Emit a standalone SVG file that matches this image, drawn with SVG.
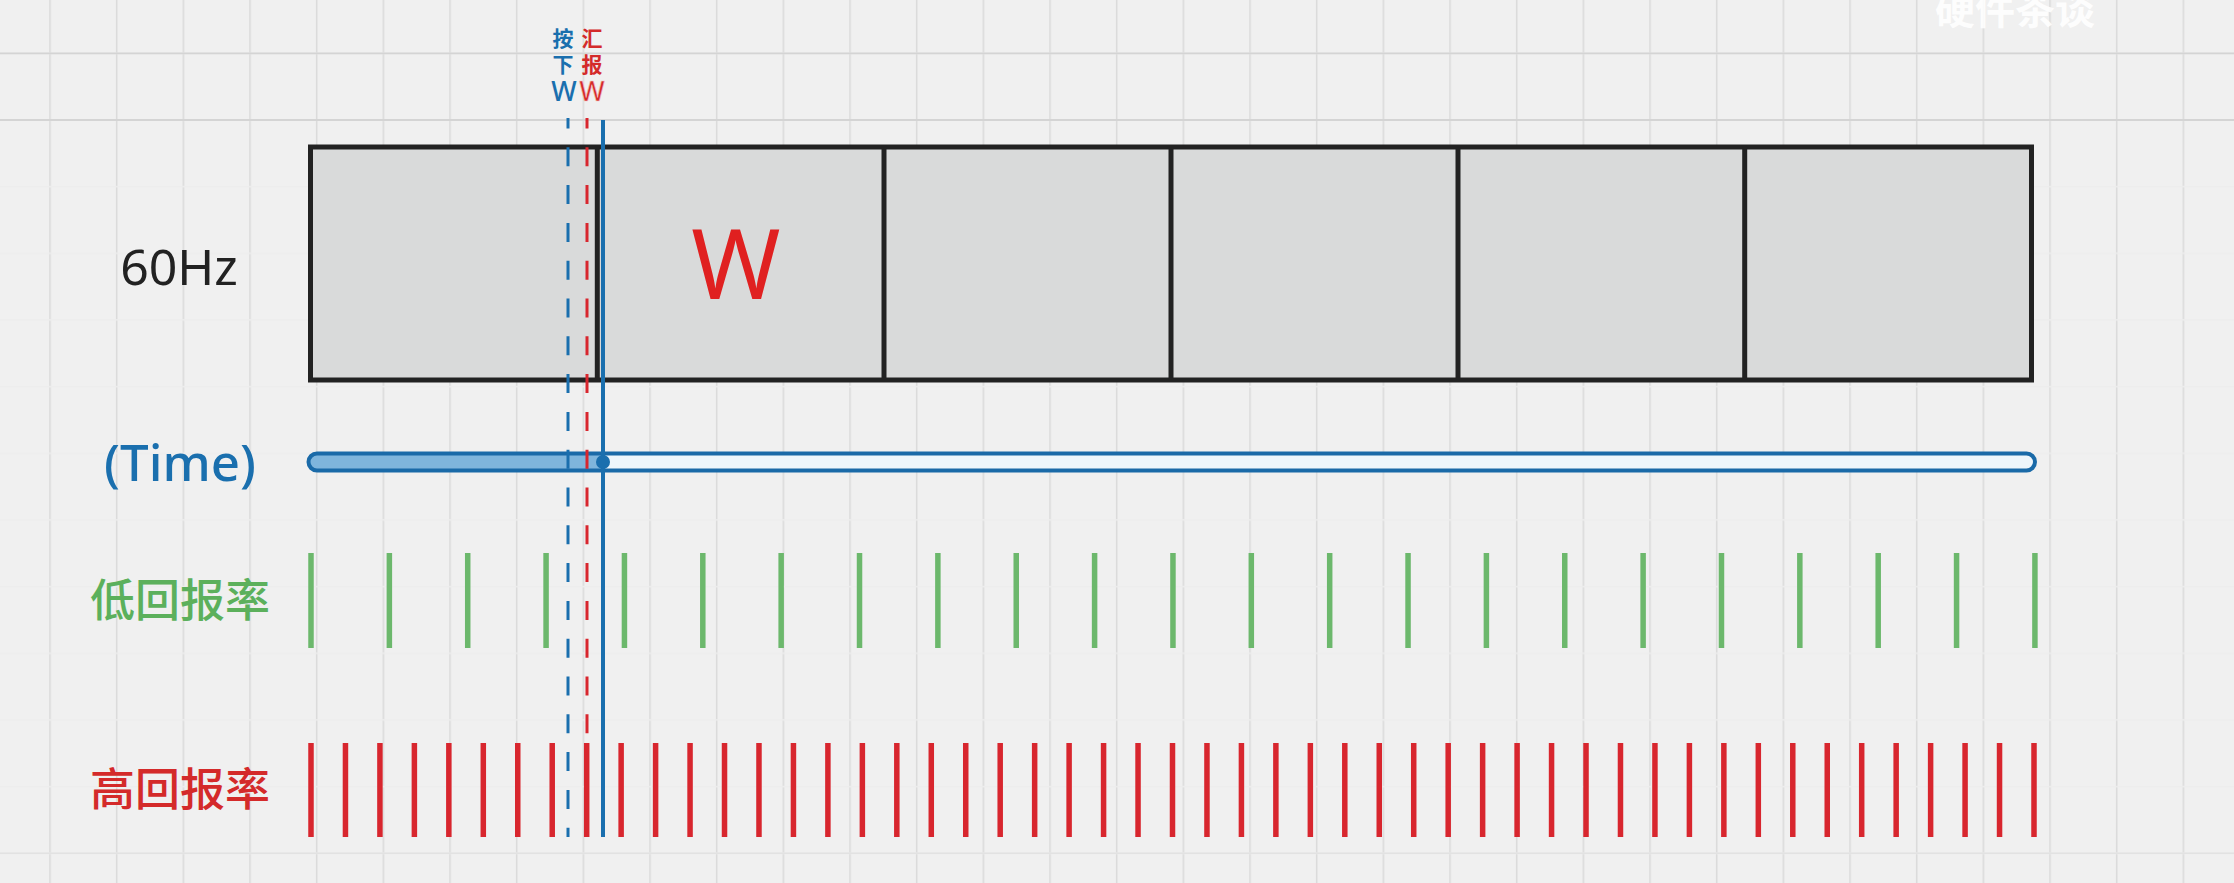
<svg xmlns="http://www.w3.org/2000/svg" width="2234" height="883" viewBox="0 0 2234 883">
<style>
.lat{font-family:"Noto Sans","Liberation Sans",sans-serif}
.cjk{font-family:"Noto Sans CJK SC","Noto Sans",sans-serif}
.cell{fill:#d9dada;stroke:#222;stroke-width:5}
.div{stroke:#222;stroke-width:5}
.gtick{stroke:#6cb86c;stroke-width:5.5;fill:none}
.rtick{stroke:#d8262e;stroke-width:5.5;fill:none}
.bline{stroke:#1a6fae;stroke-width:4;fill:none}
.bdash{stroke:#1a6fae;stroke-width:3;stroke-dasharray:19 18.8;stroke-dashoffset:8.5;fill:none}
.rdash{stroke:#d8262e;stroke-width:3;stroke-dasharray:19 18.8;stroke-dashoffset:8.5;fill:none}
</style>
<defs>
<pattern id="grid" x="49.25" y="52.5" width="66.667" height="66.667" patternUnits="userSpaceOnUse">
<path d="M0.75 0V66.667" stroke="#dadada" stroke-width="1.5"/>
<path d="M0 0.75H66.667" stroke="#ededed" stroke-width="1.5"/>
</pattern>
</defs>
<rect width="2234" height="883" fill="#f0f0f0"/>
<rect width="2234" height="883" fill="url(#grid)"/>
<path d="M0 53.3H2234M0 120H2234" stroke="#d4d4d4" stroke-width="1.8"/>
<path d="M0 853.3H2234" stroke="#e2e2e2" stroke-width="1.5"/>
<text class="cjk" x="2015" y="24" font-size="40" font-weight="700" fill="#ffffff" fill-opacity="0.9" text-anchor="middle">硬件茶谈</text>

<g id="frames">
<rect class="cell" x="310.5" y="147" width="1721" height="233"/>
<path class="div" d="M597.3 147V380M884 147V380M1171 147V380M1458 147V380M1744.7 147V380"/>
<text class="lat" x="736" y="299" font-size="96" fill="#e02020" text-anchor="middle">W</text>
</g>
<g id="label-60hz"><text class="lat" x="179" y="285" font-size="50" fill="#222" text-anchor="middle">60Hz</text></g>
<g id="label-time"><text class="lat" x="180" y="481" font-size="51" font-weight="500" fill="#1a6fae" text-anchor="middle">(Time)</text></g>
<g id="label-low"><text class="cjk" x="180" y="617" font-size="45" font-weight="500" fill="#5cb05c" text-anchor="middle">低回报率</text></g>
<g id="label-high"><text class="cjk" x="180" y="806" font-size="45" font-weight="500" fill="#d42a2a" text-anchor="middle">高回报率</text></g>

<g id="timebar">
<rect x="308.5" y="453.5" width="1726.5" height="17" rx="8.5" fill="#eef6fb"/>
<path d="M317 453.5H603V470.5H317A8.5 8.5 0 0 1 317 453.5Z" fill="#7fb5dc"/>
<rect x="308.5" y="453.5" width="1726.5" height="17" rx="8.5" fill="none" stroke="#1a6aa8" stroke-width="4"/>
</g>

<g id="low-rate">
<path class="gtick" d="M311 553V648M389.36 553V648M467.72 553V648M546.08 553V648M624.44 553V648M702.8 553V648M781.16 553V648M859.52 553V648M937.88 553V648M1016.24 553V648M1094.6 553V648M1172.96 553V648M1251.32 553V648M1329.68 553V648M1408.04 553V648M1486.4 553V648M1564.76 553V648M1643.12 553V648M1721.48 553V648M1799.84 553V648M1878.2 553V648M1956.56 553V648M2034.92 553V648"/>
</g>

<g id="high-rate">
<path class="rtick" d="M311 743V837M345.46 743V837M379.92 743V837M414.38 743V837M448.84 743V837M483.3 743V837M517.76 743V837M552.22 743V837M586.68 743V837M621.14 743V837M655.6 743V837M690.06 743V837M724.52 743V837M758.98 743V837M793.44 743V837M827.9 743V837M862.36 743V837M896.82 743V837M931.28 743V837M965.74 743V837M1000.2 743V837M1034.66 743V837M1069.12 743V837M1103.58 743V837M1138.04 743V837M1172.5 743V837M1206.96 743V837M1241.42 743V837M1275.88 743V837M1310.34 743V837M1344.8 743V837M1379.26 743V837M1413.72 743V837M1448.18 743V837M1482.64 743V837M1517.1 743V837M1551.56 743V837M1586.02 743V837M1620.48 743V837M1654.94 743V837M1689.4 743V837M1723.86 743V837M1758.32 743V837M1792.78 743V837M1827.24 743V837M1861.7 743V837M1896.16 743V837M1930.62 743V837M1965.08 743V837M1999.54 743V837M2034 743V837"/>
</g>

<g id="connectors">
<path class="bdash" d="M568 118V837"/>
<path class="rdash" d="M587 118V743"/>
<path class="bline" d="M603 120V837"/>
<circle cx="603" cy="462" r="7" fill="#1a6fae"/>
</g>

<g id="press-label">
<text class="cjk" x="563" y="46" font-size="21" font-weight="700" fill="#1a6fae" text-anchor="middle">按</text>
<text class="cjk" x="563" y="72" font-size="21" font-weight="700" fill="#1a6fae" text-anchor="middle">下</text>
<text class="lat" x="564" y="101" font-size="27" font-weight="500" fill="#1a6fae" text-anchor="middle">W</text>
</g>
<g id="report-label">
<text class="cjk" x="592" y="46" font-size="21" font-weight="700" fill="#d42a2a" text-anchor="middle">汇</text>
<text class="cjk" x="592" y="72" font-size="21" font-weight="700" fill="#d42a2a" text-anchor="middle">报</text>
<text class="lat" x="592" y="101" font-size="27" font-weight="500" fill="#d42a2a" stroke="#f4c4c4" stroke-width="0.6" text-anchor="middle">W</text>
</g>
</svg>
